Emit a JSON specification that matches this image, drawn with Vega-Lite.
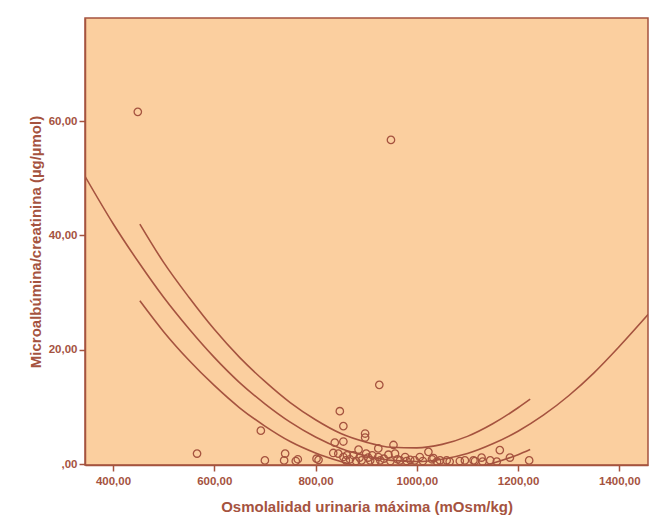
{
  "$schema": "https://vega.github.io/schema/vega-lite/v6.json",
  "autosize": "none",
  "width": 563,
  "height": 447,
  "padding": {"left": 85, "top": 18, "right": 14, "bottom": 64},
  "background": "#ffffff",
  "config": {
    "view": {"fill": "#FBCF9F", "stroke": "#A5533F", "strokeWidth": 1.5},
    "font": "Liberation Sans",
    "axis": {
      "grid": false,
      "domainColor": "#A5533F",
      "domainWidth": 1.5,
      "tickColor": "#A5533F",
      "tickWidth": 1.5,
      "tickSize": 6,
      "labelColor": "#A5533F",
      "labelFont": "Liberation Sans",
      "labelFontWeight": "bold",
      "labelFontSize": 11.5,
      "titleColor": "#A5533F",
      "titleFont": "Liberation Sans",
      "titleFontWeight": "bold",
      "titleFontSize": 15
    }
  },
  "datasets": {
    "pts": [
      {"osm": 449, "mac": 61.6}, {"osm": 949, "mac": 56.7}, {"osm": 566, "mac": 1.9}, {"osm": 692, "mac": 5.9},
      {"osm": 700, "mac": 0.7}, {"osm": 740, "mac": 1.9}, {"osm": 738, "mac": 0.7}, {"osm": 761, "mac": 0.6},
      {"osm": 765, "mac": 0.9}, {"osm": 802, "mac": 1.0}, {"osm": 806, "mac": 0.8}, {"osm": 835, "mac": 2.0},
      {"osm": 838, "mac": 3.8}, {"osm": 845, "mac": 1.9}, {"osm": 848, "mac": 9.3}, {"osm": 855, "mac": 6.7},
      {"osm": 855, "mac": 4.0}, {"osm": 855, "mac": 1.3}, {"osm": 860, "mac": 0.7}, {"osm": 862, "mac": 1.6},
      {"osm": 868, "mac": 0.9}, {"osm": 875, "mac": 1.6}, {"osm": 880, "mac": 0.6}, {"osm": 885, "mac": 2.6},
      {"osm": 887, "mac": 1.2}, {"osm": 891, "mac": 0.7}, {"osm": 898, "mac": 5.4}, {"osm": 898, "mac": 4.7},
      {"osm": 900, "mac": 1.9}, {"osm": 904, "mac": 1.2}, {"osm": 908, "mac": 0.7}, {"osm": 912, "mac": 1.6},
      {"osm": 918, "mac": 0.5}, {"osm": 924, "mac": 2.8}, {"osm": 924, "mac": 1.3}, {"osm": 926, "mac": 13.9},
      {"osm": 928, "mac": 0.7}, {"osm": 935, "mac": 1.0}, {"osm": 944, "mac": 1.7}, {"osm": 948, "mac": 0.6},
      {"osm": 954, "mac": 3.4}, {"osm": 957, "mac": 1.9}, {"osm": 962, "mac": 0.9}, {"osm": 967, "mac": 0.7},
      {"osm": 977, "mac": 1.3}, {"osm": 980, "mac": 0.6}, {"osm": 987, "mac": 0.8}, {"osm": 996, "mac": 0.7},
      {"osm": 1006, "mac": 1.3}, {"osm": 1012, "mac": 0.6}, {"osm": 1023, "mac": 2.2}, {"osm": 1030, "mac": 0.9},
      {"osm": 1033, "mac": 1.1}, {"osm": 1040, "mac": 0.5}, {"osm": 1046, "mac": 0.7}, {"osm": 1059, "mac": 0.7},
      {"osm": 1065, "mac": 0.5}, {"osm": 1085, "mac": 0.6}, {"osm": 1095, "mac": 0.7}, {"osm": 1112, "mac": 0.7},
      {"osm": 1115, "mac": 0.6}, {"osm": 1128, "mac": 1.2}, {"osm": 1130, "mac": 0.5}, {"osm": 1145, "mac": 0.7},
      {"osm": 1158, "mac": 0.5}, {"osm": 1164, "mac": 2.5}, {"osm": 1184, "mac": 1.2}, {"osm": 1222, "mac": 0.7}
    ],
    "curves": [
      {"s": "fit", "osm": 345, "mac": 50.3}, {"s": "fit", "osm": 400, "mac": 42.1}, {"s": "fit", "osm": 450, "mac": 35.4},
      {"s": "fit", "osm": 500, "mac": 29.2}, {"s": "fit", "osm": 550, "mac": 23.7}, {"s": "fit", "osm": 600, "mac": 18.7},
      {"s": "fit", "osm": 650, "mac": 14.3}, {"s": "fit", "osm": 700, "mac": 10.6}, {"s": "fit", "osm": 750, "mac": 7.4},
      {"s": "fit", "osm": 800, "mac": 4.8}, {"s": "fit", "osm": 850, "mac": 2.8}, {"s": "fit", "osm": 900, "mac": 1.5},
      {"s": "fit", "osm": 950, "mac": 0.7}, {"s": "fit", "osm": 1000, "mac": 0.5}, {"s": "fit", "osm": 1050, "mac": 0.9},
      {"s": "fit", "osm": 1100, "mac": 1.9}, {"s": "fit", "osm": 1150, "mac": 3.6}, {"s": "fit", "osm": 1200, "mac": 5.8},
      {"s": "fit", "osm": 1250, "mac": 8.6}, {"s": "fit", "osm": 1300, "mac": 12.0}, {"s": "fit", "osm": 1350, "mac": 16.0},
      {"s": "fit", "osm": 1400, "mac": 20.6}, {"s": "fit", "osm": 1457, "mac": 26.2},
      {"s": "upper", "osm": 453, "mac": 42.0}, {"s": "upper", "osm": 500, "mac": 35.3}, {"s": "upper", "osm": 550, "mac": 29.2},
      {"s": "upper", "osm": 600, "mac": 23.6}, {"s": "upper", "osm": 650, "mac": 18.7}, {"s": "upper", "osm": 700, "mac": 14.5},
      {"s": "upper", "osm": 750, "mac": 10.8}, {"s": "upper", "osm": 800, "mac": 7.8}, {"s": "upper", "osm": 850, "mac": 5.4},
      {"s": "upper", "osm": 900, "mac": 3.9}, {"s": "upper", "osm": 950, "mac": 3.0}, {"s": "upper", "osm": 1000, "mac": 2.9},
      {"s": "upper", "osm": 1050, "mac": 3.5}, {"s": "upper", "osm": 1100, "mac": 4.9}, {"s": "upper", "osm": 1150, "mac": 7.1},
      {"s": "upper", "osm": 1200, "mac": 9.9}, {"s": "upper", "osm": 1224, "mac": 11.4},
      {"s": "lower", "osm": 453, "mac": 28.6}, {"s": "lower", "osm": 500, "mac": 23.2}, {"s": "lower", "osm": 550, "mac": 18.2},
      {"s": "lower", "osm": 600, "mac": 13.8}, {"s": "lower", "osm": 650, "mac": 9.9}, {"s": "lower", "osm": 700, "mac": 6.7},
      {"s": "lower", "osm": 750, "mac": 4.0}, {"s": "lower", "osm": 800, "mac": 2.0}, {"s": "lower", "osm": 850, "mac": 0.5},
      {"s": "lower", "osm": 900, "mac": -0.7}, {"s": "lower", "osm": 950, "mac": -1.5}, {"s": "lower", "osm": 1000, "mac": -1.8},
      {"s": "lower", "osm": 1050, "mac": -1.6}, {"s": "lower", "osm": 1100, "mac": -1.0}, {"s": "lower", "osm": 1150, "mac": 0.2},
      {"s": "lower", "osm": 1200, "mac": 1.7}, {"s": "lower", "osm": 1224, "mac": 2.6}
    ]
  },
  "encoding": {
    "x": {
      "field": "osm", "type": "quantitative",
      "scale": {"domain": [344.7, 1456.7], "nice": false, "zero": false},
      "axis": {
        "title": "Osmolalidad urinaria máxima (mOsm/kg)",
        "values": [400, 600, 800, 1000, 1200, 1400],
        "labelExpr": "replace(format(datum.value, '.2f'), '.', ',')",
        "labelPadding": 4,
        "titlePadding": 13
      }
    },
    "y": {
      "field": "mac", "type": "quantitative",
      "scale": {"domain": [-0.1, 78], "nice": false, "zero": false},
      "axis": {
        "title": "Microalbúmina/creatinina (µg/µmol)",
        "values": [0, 20, 40, 60],
        "labelExpr": "datum.value == 0 ? ',00' : replace(format(datum.value, '.2f'), '.', ',')",
        "labelPadding": 2,
        "titlePadding": 5
      }
    }
  },
  "layer": [
    {
      "data": {"name": "curves"},
      "mark": {"type": "line", "interpolate": "monotone", "clip": true, "color": "#A5533F", "strokeWidth": 1.6},
      "encoding": {"detail": {"field": "s"}}
    },
    {
      "data": {"name": "pts"},
      "mark": {"type": "point", "shape": "circle", "filled": false, "size": 55, "color": "#A5533F", "strokeWidth": 1.3, "opacity": 1}
    }
  ]
}
